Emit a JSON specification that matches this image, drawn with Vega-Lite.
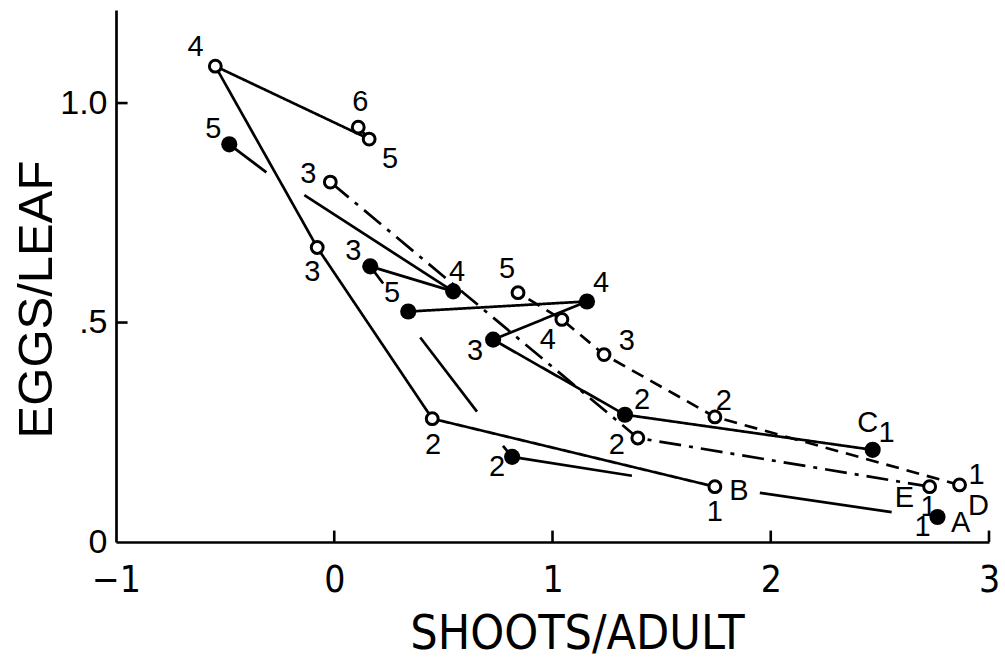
{
  "$schema": "https://vega.github.io/schema/vega-lite/v6.json",
  "width": 873,
  "height": 532,
  "autosize": {"type": "none"},
  "padding": {"left": 116, "top": 10, "right": 16, "bottom": 117},
  "background": "white",
  "config": {"view": {"stroke": null}},
  "datasets": {
    "points": [
      {"series": "A", "step": 1, "x": 2.764, "y": 0.057},
      {"series": "A", "step": 2, "x": 0.815, "y": 0.194},
      {"series": "A", "step": 3, "x": 0.165, "y": 0.628},
      {"series": "A", "step": 4, "x": 0.545, "y": 0.571},
      {"series": "A", "step": 5, "x": -0.481, "y": 0.906},
      {"series": "B", "step": 1, "x": 1.744, "y": 0.126},
      {"series": "B", "step": 2, "x": 0.449, "y": 0.281},
      {"series": "B", "step": 3, "x": -0.078, "y": 0.671},
      {"series": "B", "step": 4, "x": -0.545, "y": 1.084},
      {"series": "B", "step": 5, "x": 0.160, "y": 0.918},
      {"series": "B", "step": 6, "x": 0.110, "y": 0.945},
      {"series": "C", "step": 1, "x": 2.467, "y": 0.210},
      {"series": "C", "step": 2, "x": 1.332, "y": 0.290},
      {"series": "C", "step": 3, "x": 0.728, "y": 0.461},
      {"series": "C", "step": 4, "x": 1.158, "y": 0.548},
      {"series": "C", "step": 5, "x": 0.339, "y": 0.525},
      {"series": "D", "step": 1, "x": 2.865, "y": 0.130},
      {"series": "D", "step": 2, "x": 1.744, "y": 0.285},
      {"series": "D", "step": 3, "x": 1.236, "y": 0.427},
      {"series": "D", "step": 4, "x": 1.043, "y": 0.507},
      {"series": "D", "step": 5, "x": 0.842, "y": 0.568},
      {"series": "E", "step": 1, "x": 2.728, "y": 0.126},
      {"series": "E", "step": 2, "x": 1.391, "y": 0.237},
      {"series": "E", "step": 3, "x": -0.018, "y": 0.820}
    ],
    "pieces": [
      {"x": 2.554, "y": 0.068, "x2": 1.950, "y2": 0.112},
      {"x": 1.364, "y": 0.151, "x2": 0.815, "y2": 0.194},
      {"x": 0.815, "y": 0.194, "x2": 0.773, "y2": 0.219},
      {"x": 0.654, "y": 0.297, "x2": 0.394, "y2": 0.466},
      {"x": 0.224, "y": 0.589, "x2": 0.165, "y2": 0.628},
      {"x": 0.165, "y": 0.628, "x2": 0.545, "y2": 0.571},
      {"x": 0.545, "y": 0.571, "x2": -0.137, "y2": 0.790},
      {"x": -0.311, "y": 0.842, "x2": -0.481, "y2": 0.906}
    ],
    "xticks": [{"v": 0}, {"v": 1}, {"v": 2}, {"v": 3}],
    "yticks": [{"v": 0.5}, {"v": 1}],
    "labels": [
      {"text": "1", "x": 2.696, "y": 0.034},
      {"text": "A", "x": 2.870, "y": 0.043},
      {"text": "2", "x": 0.746, "y": 0.171},
      {"text": "3", "x": 0.087, "y": 0.664},
      {"text": "4", "x": 0.563, "y": 0.614},
      {"text": "5", "x": -0.554, "y": 0.941},
      {"text": "1", "x": 1.744, "y": 0.068},
      {"text": "B", "x": 1.854, "y": 0.116},
      {"text": "2", "x": 0.453, "y": 0.221},
      {"text": "3", "x": -0.101, "y": 0.616},
      {"text": "4", "x": -0.636, "y": 1.128},
      {"text": "5", "x": 0.256, "y": 0.872},
      {"text": "6", "x": 0.119, "y": 1.002},
      {"text": "C", "x": 2.444, "y": 0.272},
      {"text": "1", "x": 2.531, "y": 0.249},
      {"text": "2", "x": 1.410, "y": 0.324},
      {"text": "3", "x": 0.645, "y": 0.434},
      {"text": "4", "x": 1.222, "y": 0.591},
      {"text": "5", "x": 0.265, "y": 0.568},
      {"text": "1", "x": 2.943, "y": 0.153},
      {"text": "D", "x": 2.952, "y": 0.082},
      {"text": "2", "x": 1.785, "y": 0.322},
      {"text": "3", "x": 1.341, "y": 0.457},
      {"text": "4", "x": 0.979, "y": 0.461},
      {"text": "5", "x": 0.792, "y": 0.621},
      {"text": "E", "x": 2.613, "y": 0.100},
      {"text": "1", "x": 2.723, "y": 0.080},
      {"text": "2", "x": 1.295, "y": 0.221},
      {"text": "3", "x": -0.119, "y": 0.838}
    ]
  },
  "layer": [
    {
      "data": {"name": "points"},
      "transform": [{"filter": "datum.series !== 'A'"}],
      "mark": {"type": "line", "color": "black", "strokeWidth": 2.7},
      "encoding": {
        "x": {
          "field": "x", "type": "quantitative",
          "scale": {"domain": [-1, 3], "nice": false, "zero": false},
          "axis": {
            "values": [-1, 0, 1, 2, 3],
            "format": "d",
            "grid": false, "ticks": false,
            "domainColor": "black", "domainWidth": 2.7,
            "labelFont": "DejaVu Sans Condensed, Liberation Sans, sans-serif",
            "labelFontSize": 37, "labelColor": "black", "labelPadding": 20,
            "labelFlush": false,
            "title": "SHOOTS/ADULT",
            "titleFont": "DejaVu Sans Condensed, Liberation Sans, sans-serif",
            "titleFontSize": 48, "titleFontWeight": "normal", "titleColor": "black",
            "titleX": 461, "titleY": 106, "titleBaseline": "alphabetic", "titleAlign": "center"
          }
        },
        "y": {
          "field": "y", "type": "quantitative",
          "scale": {"domain": [0, 1.212], "nice": false, "zero": false},
          "axis": {
            "values": [0, 0.5, 1],
            "labelExpr": "datum.value == 0 ? '0' : (datum.value == 1 ? '1.0' : '.5')",
            "grid": false, "ticks": false,
            "domainColor": "black", "domainWidth": 2.7,
            "labelFont": "Liberation Sans, sans-serif",
            "labelFontSize": 34, "labelColor": "black", "labelPadding": 9,
            "labelFlush": false,
            "title": "EGGS/LEAF",
            "titleFont": "Liberation Sans, sans-serif",
            "titleFontSize": 49, "titleFontWeight": "normal", "titleColor": "black",
            "titleX": -80, "titleY": 289, "titleBaseline": "middle", "titleAlign": "center", "titleAngle": -90
          }
        },
        "order": {"field": "step", "type": "quantitative"},
        "detail": {"field": "series"},
        "strokeDash": {
          "field": "series", "type": "nominal",
          "scale": {"domain": ["B", "C", "D", "E"], "range": [[1, 0], [1, 0], [13, 8], [22, 8, 4, 8]]},
          "legend": null
        }
      }
    },
    {
      "data": {"name": "xticks"},
      "mark": {"type": "rule", "color": "black", "strokeWidth": 2.6, "opacity": 1},
      "encoding": {
        "x": {"field": "v", "type": "quantitative"},
        "y": {"datum": 0, "type": "quantitative"},
        "y2": {"datum": 0.026}
      }
    },
    {
      "data": {"name": "yticks"},
      "mark": {"type": "rule", "color": "black", "strokeWidth": 2.6, "opacity": 1},
      "encoding": {
        "y": {"field": "v", "type": "quantitative"},
        "x": {"datum": -1, "type": "quantitative"},
        "x2": {"datum": -0.947}
      }
    },
    {
      "data": {"name": "pieces"},
      "mark": {"type": "rule", "color": "black", "strokeWidth": 2.7},
      "encoding": {
        "x": {"field": "x", "type": "quantitative"},
        "y": {"field": "y", "type": "quantitative"},
        "x2": {"field": "x2"},
        "y2": {"field": "y2"}
      }
    },
    {
      "data": {"name": "points"},
      "transform": [{"filter": "datum.series === 'B' || datum.series === 'D' || datum.series === 'E'"}],
      "mark": {"type": "point", "shape": "circle", "filled": true, "fill": "white", "stroke": "black", "strokeWidth": 3, "size": 140, "opacity": 1},
      "encoding": {
        "x": {"field": "x", "type": "quantitative"},
        "y": {"field": "y", "type": "quantitative"}
      }
    },
    {
      "data": {"name": "points"},
      "transform": [{"filter": "datum.series === 'A' || datum.series === 'C'"}],
      "mark": {"type": "point", "shape": "circle", "filled": true, "fill": "black", "strokeWidth": 0, "size": 260, "opacity": 1},
      "encoding": {
        "x": {"field": "x", "type": "quantitative"},
        "y": {"field": "y", "type": "quantitative"}
      }
    },
    {
      "data": {"name": "labels"},
      "mark": {"type": "text", "font": "Liberation Sans, sans-serif", "fontSize": 29, "color": "black", "align": "center", "baseline": "middle"},
      "encoding": {
        "x": {"field": "x", "type": "quantitative"},
        "y": {"field": "y", "type": "quantitative"},
        "text": {"field": "text"}
      }
    }
  ]
}
